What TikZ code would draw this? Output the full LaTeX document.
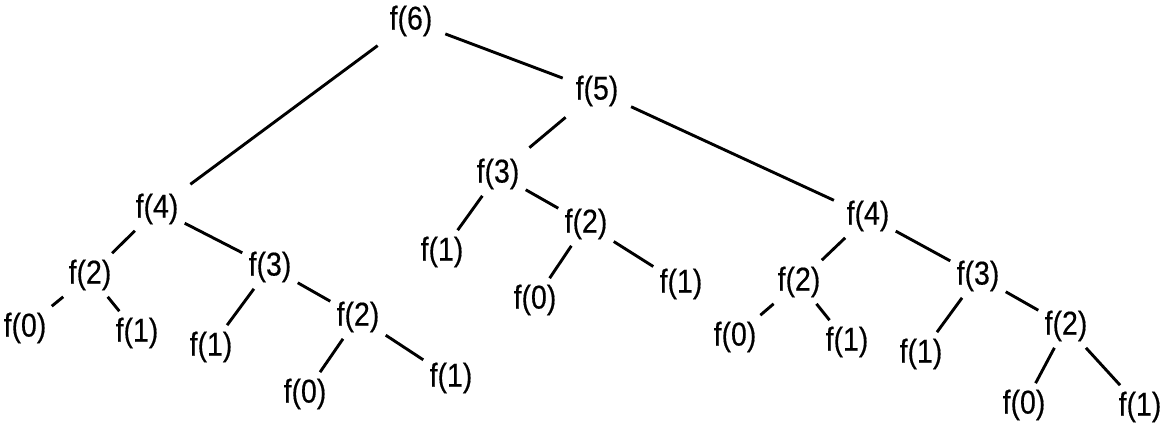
\documentclass[tikz,border=0pt]{standalone}
\usepackage{fontspec}
\setmainfont{Liberation Sans}
\newfontfamily\callfont[FakeStretch=0.86, FakeBold=0.4]{Liberation Sans}

\begin{document}
\begin{tikzpicture}[x=1pt, y=-1pt, line width=2.9pt,
  call/.style={inner sep=5pt, font=\callfont\fontsize{33}{38}\selectfont},
  far/.style={shorten <=7pt, shorten >=7pt}]
  \useasboundingbox (0,0) rectangle (1167,437);
  \node[call] (f6) at (411,21) {f(6)};
  \node[call] (f5) at (597,91) {f(5)};
  \node[call] (f4a) at (157,209) {f(4)};
  \node[call] (f3b) at (498,174) {f(3)};
  \node[call] (f4c) at (868,216) {f(4)};
  \node[call] (f2a) at (90,275) {f(2)};
  \node[call] (f3a) at (270,267) {f(3)};
  \node[call] (f0a) at (25,328) {f(0)};
  \node[call] (f1a) at (137,333) {f(1)};
  \node[call] (f1b) at (211,347) {f(1)};
  \node[call] (f2b) at (358,317) {f(2)};
  \node[call] (f0b) at (305,394) {f(0)};
  \node[call] (f1c) at (451,378) {f(1)};
  \node[call] (f1d) at (442,252) {f(1)};
  \node[call] (f2c) at (586,224) {f(2)};
  \node[call] (f0c) at (535,300) {f(0)};
  \node[call] (f1e) at (681,284) {f(1)};
  \node[call] (f2d) at (799,282) {f(2)};
  \node[call] (f3c) at (978,276) {f(3)};
  \node[call] (f0d) at (735,337) {f(0)};
  \node[call] (f1f) at (847,342) {f(1)};
  \node[call] (f1g) at (921,354) {f(1)};
  \node[call] (f2e) at (1066,326) {f(2)};
  \node[call] (f0e) at (1024,405) {f(0)};
  \node[call] (f1h) at (1140,407) {f(1)};
  \draw[far] (f6) -- (f4a);
  \draw[far] (f6) -- (f5);
  \draw[far] (f5) -- (f3b);
  \draw[far] (f5) -- (f4c);
  \draw (f4a) -- (f2a);
  \draw (f4a) -- (f3a);
  \draw (f2a) -- (f0a);
  \draw (f2a) -- (f1a);
  \draw (f3a) -- (f1b);
  \draw (f3a) -- (f2b);
  \draw (f2b) -- (f0b);
  \draw (f2b) -- (f1c);
  \draw (f3b) -- (f1d);
  \draw (f3b) -- (f2c);
  \draw (f2c) -- (f0c);
  \draw (f2c) -- (f1e);
  \draw (f4c) -- (f2d);
  \draw (f4c) -- (f3c);
  \draw (f2d) -- (f0d);
  \draw (f2d) -- (f1f);
  \draw (f3c) -- (f1g);
  \draw (f3c) -- (f2e);
  \draw (f2e) -- (f0e);
  \draw (f2e) -- (f1h);
\end{tikzpicture}
\end{document}
